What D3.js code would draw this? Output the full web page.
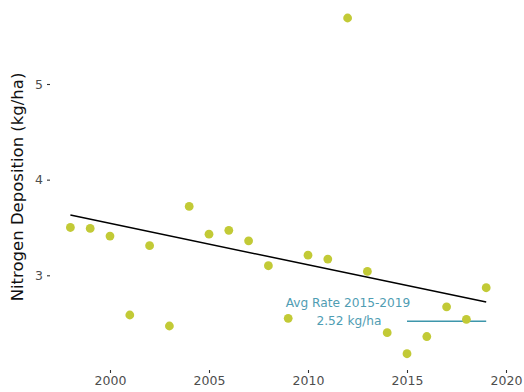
<!DOCTYPE html>
<html>
<head>
<meta charset="utf-8">
<script src="https://cdn.jsdelivr.net/npm/d3@7"></script>
<style>
  html, body { margin: 0; padding: 0; background: #fff; }
  svg { display: block; font-family: "DejaVu Sans", sans-serif; }
</style>
</head>
<body>
<svg id="chart" width="524" height="392"></svg>
<script>
// Annual nitrogen deposition
const years = [1998, 1999, 2000, 2001, 2002, 2003, 2004, 2005, 2006, 2007, 2008,
               2009, 2010, 2011, 2012, 2013, 2014, 2015, 2016, 2017, 2018, 2019];
const deposition = [3.50, 3.49, 3.41, 2.585, 3.31, 2.47, 3.72, 3.43, 3.47, 3.36, 3.10,
                    2.55, 3.21, 3.17, 5.69, 3.04, 2.40, 2.18, 2.36, 2.67, 2.54, 2.87];

// Long-term trend line endpoints
const trendYears = [1998, 2019];
const trendValues = [3.63, 2.72];

// Recent average
const avgYears = [2015, 2019];
const avgValue = 2.52;
const avgLabel = ["Avg Rate 2015-2019", "2.52 kg/ha"];

const xTicks = [2000, 2005, 2010, 2015, 2020];
const yTicks = [3, 4, 5];

const svg = d3.select("#chart");
const x = d3.scaleLinear().domain([2000, 2020]).range([110, 506]);
const y = d3.scaleLinear().domain([3, 5]).range([275.3, 84]);
const panelBottom = 370;
const panelLeft = 50;

// x axis (ticks and labels only)
const xAxis = svg.append("g")
  .attr("transform", `translate(0,${panelBottom})`)
  .call(d3.axisBottom(x).tickValues(xTicks).tickFormat(d3.format("d")).tickSize(3).tickPadding(3));
xAxis.select(".domain").remove();
xAxis.selectAll("line").attr("stroke", "#333").attr("stroke-width", 1.1);
xAxis.selectAll("text").attr("fill", "#4d4d4d").attr("font-size", 12.5).attr("font-family", "DejaVu Sans, sans-serif");

// y axis
const yAxis = svg.append("g")
  .attr("transform", `translate(${panelLeft},0)`)
  .call(d3.axisLeft(y).tickValues(yTicks).tickFormat(d3.format("d")).tickSize(3).tickPadding(4));
yAxis.select(".domain").remove();
yAxis.selectAll("line").attr("stroke", "#333").attr("stroke-width", 1.1);
yAxis.selectAll("text").attr("fill", "#4d4d4d").attr("font-size", 12.5).attr("font-family", "DejaVu Sans, sans-serif");

// y axis title
svg.append("text")
  .attr("transform", "translate(23,187) rotate(-90)")
  .attr("text-anchor", "middle")
  .attr("font-size", 16.5)
  .attr("fill", "#111")
  .text("Nitrogen Deposition (kg/ha)");

// trend line
svg.append("line")
  .attr("x1", x(trendYears[0])).attr("y1", y(trendValues[0]))
  .attr("x2", x(trendYears[1])).attr("y2", y(trendValues[1]))
  .attr("stroke", "#000").attr("stroke-width", 1.5);

// average segment
svg.append("line")
  .attr("x1", x(avgYears[0])).attr("y1", y(avgValue))
  .attr("x2", x(avgYears[1])).attr("y2", y(avgValue))
  .attr("stroke", "#3d96ab").attr("stroke-width", 1.6);

// points
svg.append("g").selectAll("circle")
  .data(years.map((yr, i) => ({ yr, v: deposition[i] })))
  .join("circle")
  .attr("cx", d => x(d.yr))
  .attr("cy", d => y(d.v))
  .attr("r", 4.4)
  .attr("fill", "#c2ca36");

// average annotation
const ann = svg.append("text")
  .attr("text-anchor", "middle")
  .attr("font-size", 12.2)
  .attr("fill", "#4f9db3");
ann.append("tspan").attr("x", 348).attr("y", 306.5).text(avgLabel[0]);
ann.append("tspan").attr("x", 349).attr("y", 324.5).text(avgLabel[1]);
</script>
</body>
</html>
